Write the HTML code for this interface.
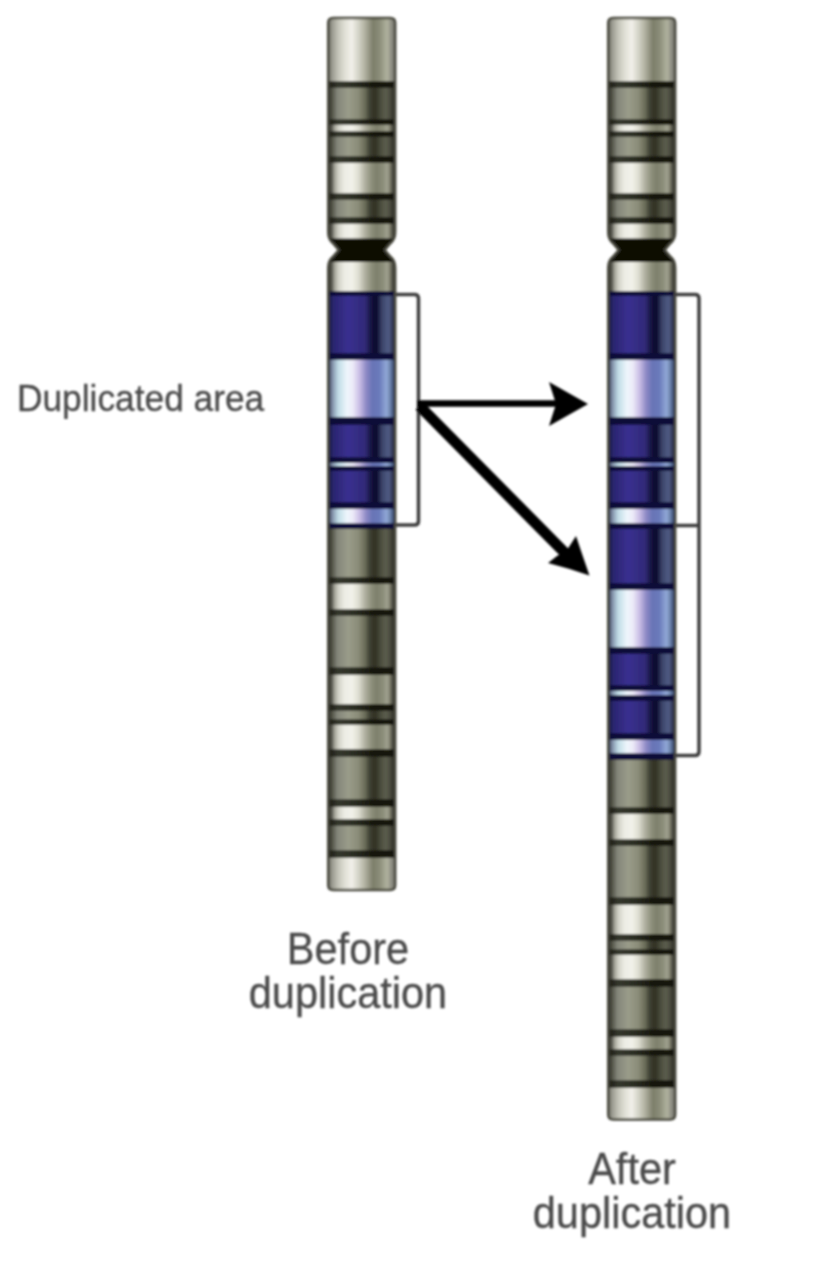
<!DOCTYPE html>
<html><head><meta charset="utf-8"><style>
html,body{margin:0;padding:0;background:#fff}
body{width:825px;height:1262px;position:relative;overflow:hidden}
.t{position:absolute;font-family:"Liberation Sans",sans-serif;color:#4a4a4a;white-space:nowrap}
.c{text-align:center}
.t{filter:blur(0.8px);-webkit-text-stroke:0.3px #4a4a4a;transform:scaleY(1.05);transform-origin:50% 0}
</style></head><body>
<svg width="825" height="1262" viewBox="0 0 825 1262" style="position:absolute;left:0;top:0">
<defs>
<linearGradient id="gL" x1="0" x2="1" y1="0" y2="0">
<stop offset="0" stop-color="#303028"/><stop offset="0.05" stop-color="#505048"/><stop offset="0.1" stop-color="#a8a89c"/><stop offset="0.16" stop-color="#d4d4ca"/>
<stop offset="0.24" stop-color="#ececE4"/><stop offset="0.35" stop-color="#f2f2ea"/><stop offset="0.45" stop-color="#deded2"/>
<stop offset="0.55" stop-color="#b0b0a0"/><stop offset="0.65" stop-color="#8c8e7a"/><stop offset="0.72" stop-color="#7e806c"/>
<stop offset="0.82" stop-color="#8c8e7a"/><stop offset="0.88" stop-color="#a0a290"/><stop offset="0.92" stop-color="#80806e"/>
<stop offset="0.96" stop-color="#4a4a40"/><stop offset="1" stop-color="#303028"/></linearGradient>
<linearGradient id="gD" x1="0" x2="1" y1="0" y2="0">
<stop offset="0" stop-color="#282820"/><stop offset="0.07" stop-color="#5a5c50"/><stop offset="0.14" stop-color="#84867a"/>
<stop offset="0.3" stop-color="#9a9c8a"/><stop offset="0.45" stop-color="#8a8c78"/><stop offset="0.55" stop-color="#6a6c58"/>
<stop offset="0.62" stop-color="#3e4032"/><stop offset="0.7" stop-color="#303222"/><stop offset="0.78" stop-color="#4a4c3c"/>
<stop offset="0.86" stop-color="#5c5e4e"/><stop offset="0.93" stop-color="#48483c"/><stop offset="1" stop-color="#202018"/></linearGradient>
<linearGradient id="gB" x1="0" x2="1" y1="0" y2="0">
<stop offset="0" stop-color="#14143a"/><stop offset="0.08" stop-color="#2a2670"/><stop offset="0.3" stop-color="#3a3090"/>
<stop offset="0.55" stop-color="#302a78"/><stop offset="0.65" stop-color="#14123c"/><stop offset="0.72" stop-color="#0c0c2c"/>
<stop offset="0.8" stop-color="#3a4468"/><stop offset="0.9" stop-color="#505c84"/><stop offset="0.95" stop-color="#3a4060"/>
<stop offset="1" stop-color="#101030"/></linearGradient>
<linearGradient id="gLB" x1="0" x2="1" y1="0" y2="0">
<stop offset="0" stop-color="#303850"/><stop offset="0.07" stop-color="#8898b0"/><stop offset="0.15" stop-color="#c0dce6"/>
<stop offset="0.28" stop-color="#eef6fc"/><stop offset="0.37" stop-color="#eceaf8"/><stop offset="0.47" stop-color="#c8bce4"/>
<stop offset="0.57" stop-color="#8c88c4"/><stop offset="0.66" stop-color="#6874b6"/><stop offset="0.76" stop-color="#6a7aba"/>
<stop offset="0.87" stop-color="#90a8d6"/><stop offset="0.93" stop-color="#6a80a8"/><stop offset="1" stop-color="#1c2850"/></linearGradient>
<linearGradient id="gK" x1="0" x2="1" y1="0" y2="0">
<stop offset="0" stop-color="#1a1a14"/><stop offset="0.15" stop-color="#34362c"/><stop offset="0.4" stop-color="#2a2c22"/><stop offset="0.7" stop-color="#14140a"/><stop offset="1" stop-color="#18180f"/></linearGradient>
<linearGradient id="gL0" x1="0" x2="1" y1="0" y2="0">
<stop offset="0" stop-color="#6a6a60"/><stop offset="0.06" stop-color="#9a9a90"/><stop offset="0.15" stop-color="#c4c4b8"/>
<stop offset="0.25" stop-color="#e0e0d6"/><stop offset="0.35" stop-color="#f2f0ea"/><stop offset="0.45" stop-color="#d4d4c8"/>
<stop offset="0.55" stop-color="#b0b0a0"/><stop offset="0.67" stop-color="#7c7e6a"/><stop offset="0.76" stop-color="#8a8c78"/>
<stop offset="0.88" stop-color="#b0b29e"/><stop offset="0.95" stop-color="#8a8a80"/><stop offset="1" stop-color="#6a6a60"/></linearGradient>
<filter id="bl" x="-5%" y="-5%" width="110%" height="110%"><feGaussianBlur stdDeviation="1.3"/></filter>

</defs>
<g filter="url(#bl)">
<clipPath id="c328"><path d="M328.2,23 Q328.2,18 333.2,18 L390.2,18 Q395.2,18 395.2,23 L395.2,232 Q395.2,239.5 390.2,243.5 L384.7,250 L390.2,256.5 Q395.2,260.5 395.2,268 L395.2,885 Q395.2,890 390.2,890 L333.2,890 Q328.2,890 328.2,885 L328.2,268 Q328.2,260.5 333.2,256.5 L338.7,250 L333.2,243.5 Q328.2,239.5 328.2,232 Z"/></clipPath>
<g clip-path="url(#c328)">
<rect x="328.2" y="0" width="67" height="1200" fill="#0c0c08"/>
<rect x="328.2" y="17" width="67" height="65" fill="url(#gL0)"/>
<rect x="328.2" y="87" width="67" height="33" fill="url(#gD)"/>
<rect x="328.2" y="124" width="67" height="8" fill="url(#gL)"/>
<rect x="328.2" y="136" width="67" height="21" fill="url(#gD)"/>
<rect x="328.2" y="162" width="67" height="32" fill="url(#gL)"/>
<rect x="328.2" y="199" width="67" height="19" fill="url(#gD)"/>
<rect x="328.2" y="223" width="67" height="16" fill="url(#gL)"/>
<rect x="328.2" y="262" width="67" height="30" fill="url(#gL)"/>
<rect x="328.2" y="295" width="67" height="59" fill="url(#gB)"/>
<rect x="328.2" y="359" width="67" height="59" fill="url(#gLB)"/>
<rect x="328.2" y="424" width="67" height="34" fill="url(#gB)"/>
<rect x="328.2" y="462" width="67" height="5" fill="url(#gLB)"/>
<rect x="328.2" y="470" width="67" height="33" fill="url(#gB)"/>
<rect x="328.2" y="508" width="67" height="16" fill="url(#gLB)"/>
<rect x="328.2" y="528" width="67" height="50" fill="url(#gD)"/>
<rect x="328.2" y="583" width="67" height="27" fill="url(#gL)"/>
<rect x="328.2" y="615" width="67" height="53" fill="url(#gD)"/>
<rect x="328.2" y="674" width="67" height="31" fill="url(#gL)"/>
<rect x="328.2" y="710" width="67" height="10" fill="url(#gD)"/>
<rect x="328.2" y="724" width="67" height="26" fill="url(#gL)"/>
<rect x="328.2" y="756" width="67" height="44" fill="url(#gD)"/>
<rect x="328.2" y="806" width="67" height="14" fill="url(#gL)"/>
<rect x="328.2" y="825" width="67" height="26" fill="url(#gD)"/>
<rect x="328.2" y="857" width="67" height="33" fill="url(#gL0)"/>
<rect x="328.2" y="81.25" width="67" height="6.5" fill="url(#gK)"/>
<rect x="328.2" y="119.25" width="67" height="5.5" fill="url(#gK)"/>
<rect x="328.2" y="131.25" width="67" height="5.5" fill="url(#gK)"/>
<rect x="328.2" y="156.25" width="67" height="6.5" fill="url(#gK)"/>
<rect x="328.2" y="193.25" width="67" height="6.5" fill="url(#gK)"/>
<rect x="328.2" y="217.25" width="67" height="6.5" fill="url(#gK)"/>
<rect x="328.2" y="291.25" width="67" height="4.5" fill="#0a0a38"/>
<rect x="328.2" y="353.25" width="67" height="6.5" fill="#0a0a38"/>
<rect x="328.2" y="417.25" width="67" height="7.5" fill="#0a0a38"/>
<rect x="328.2" y="457.25" width="67" height="5.5" fill="#0a0a38"/>
<rect x="328.2" y="466.25" width="67" height="4.5" fill="#0a0a38"/>
<rect x="328.2" y="502.25" width="67" height="6.5" fill="#0a0a38"/>
<rect x="328.2" y="523.25" width="67" height="5.5" fill="#0a0a38"/>
<rect x="328.2" y="577.25" width="67" height="6.5" fill="url(#gK)"/>
<rect x="328.2" y="609.25" width="67" height="6.5" fill="url(#gK)"/>
<rect x="328.2" y="667.25" width="67" height="7.5" fill="url(#gK)"/>
<rect x="328.2" y="704.25" width="67" height="6.5" fill="url(#gK)"/>
<rect x="328.2" y="719.25" width="67" height="5.5" fill="url(#gK)"/>
<rect x="328.2" y="749.25" width="67" height="7.5" fill="url(#gK)"/>
<rect x="328.2" y="799.25" width="67" height="7.5" fill="url(#gK)"/>
<rect x="328.2" y="819.25" width="67" height="6.5" fill="url(#gK)"/>
<rect x="328.2" y="850.25" width="67" height="7.5" fill="url(#gK)"/>
<rect x="328.2" y="238.5" width="67" height="23.5" fill="#080806"/>
</g>
<path d="M328.2,23 Q328.2,18 333.2,18 L390.2,18 Q395.2,18 395.2,23 L395.2,232 Q395.2,239.5 390.2,243.5 L384.7,250 L390.2,256.5 Q395.2,260.5 395.2,268 L395.2,885 Q395.2,890 390.2,890 L333.2,890 Q328.2,890 328.2,885 L328.2,268 Q328.2,260.5 333.2,256.5 L338.7,250 L333.2,243.5 Q328.2,239.5 328.2,232 Z" fill="none" stroke="#48483e" stroke-width="2.5"/>
<clipPath id="c608"><path d="M608.2,23 Q608.2,18 613.2,18 L670.2,18 Q675.2,18 675.2,23 L675.2,232 Q675.2,239.5 670.2,243.5 L664.7,250 L670.2,256.5 Q675.2,260.5 675.2,268 L675.2,1114.5 Q675.2,1119.5 670.2,1119.5 L613.2,1119.5 Q608.2,1119.5 608.2,1114.5 L608.2,268 Q608.2,260.5 613.2,256.5 L618.7,250 L613.2,243.5 Q608.2,239.5 608.2,232 Z"/></clipPath>
<g clip-path="url(#c608)">
<rect x="608.2" y="0" width="67" height="1200" fill="#0c0c08"/>
<rect x="608.2" y="17" width="67" height="65" fill="url(#gL0)"/>
<rect x="608.2" y="87" width="67" height="33" fill="url(#gD)"/>
<rect x="608.2" y="124" width="67" height="8" fill="url(#gL)"/>
<rect x="608.2" y="136" width="67" height="21" fill="url(#gD)"/>
<rect x="608.2" y="162" width="67" height="32" fill="url(#gL)"/>
<rect x="608.2" y="199" width="67" height="19" fill="url(#gD)"/>
<rect x="608.2" y="223" width="67" height="16" fill="url(#gL)"/>
<rect x="608.2" y="262" width="67" height="30" fill="url(#gL)"/>
<rect x="608.2" y="295" width="67" height="59" fill="url(#gB)"/>
<rect x="608.2" y="359" width="67" height="59" fill="url(#gLB)"/>
<rect x="608.2" y="424" width="67" height="34" fill="url(#gB)"/>
<rect x="608.2" y="462" width="67" height="5" fill="url(#gLB)"/>
<rect x="608.2" y="470" width="67" height="33" fill="url(#gB)"/>
<rect x="608.2" y="508" width="67" height="16" fill="url(#gLB)"/>
<rect x="608.2" y="528" width="67" height="56" fill="url(#gB)"/>
<rect x="608.2" y="589" width="67" height="59" fill="url(#gLB)"/>
<rect x="608.2" y="653" width="67" height="33" fill="url(#gB)"/>
<rect x="608.2" y="690" width="67" height="6" fill="url(#gLB)"/>
<rect x="608.2" y="700" width="67" height="34" fill="url(#gB)"/>
<rect x="608.2" y="739" width="67" height="15" fill="url(#gLB)"/>
<rect x="608.2" y="758" width="67" height="50" fill="url(#gD)"/>
<rect x="608.2" y="813" width="67" height="27" fill="url(#gL)"/>
<rect x="608.2" y="845" width="67" height="53" fill="url(#gD)"/>
<rect x="608.2" y="904" width="67" height="31" fill="url(#gL)"/>
<rect x="608.2" y="940" width="67" height="10" fill="url(#gD)"/>
<rect x="608.2" y="954" width="67" height="26" fill="url(#gL)"/>
<rect x="608.2" y="986" width="67" height="44" fill="url(#gD)"/>
<rect x="608.2" y="1036" width="67" height="14" fill="url(#gL)"/>
<rect x="608.2" y="1055" width="67" height="26" fill="url(#gD)"/>
<rect x="608.2" y="1087" width="67" height="32.5" fill="url(#gL0)"/>
<rect x="608.2" y="81.25" width="67" height="6.5" fill="url(#gK)"/>
<rect x="608.2" y="119.25" width="67" height="5.5" fill="url(#gK)"/>
<rect x="608.2" y="131.25" width="67" height="5.5" fill="url(#gK)"/>
<rect x="608.2" y="156.25" width="67" height="6.5" fill="url(#gK)"/>
<rect x="608.2" y="193.25" width="67" height="6.5" fill="url(#gK)"/>
<rect x="608.2" y="217.25" width="67" height="6.5" fill="url(#gK)"/>
<rect x="608.2" y="291.25" width="67" height="4.5" fill="#0a0a38"/>
<rect x="608.2" y="353.25" width="67" height="6.5" fill="#0a0a38"/>
<rect x="608.2" y="417.25" width="67" height="7.5" fill="#0a0a38"/>
<rect x="608.2" y="457.25" width="67" height="5.5" fill="#0a0a38"/>
<rect x="608.2" y="466.25" width="67" height="4.5" fill="#0a0a38"/>
<rect x="608.2" y="502.25" width="67" height="6.5" fill="#0a0a38"/>
<rect x="608.2" y="523.25" width="67" height="5.5" fill="#0a0a38"/>
<rect x="608.2" y="583.25" width="67" height="6.5" fill="#0a0a38"/>
<rect x="608.2" y="647.25" width="67" height="6.5" fill="#0a0a38"/>
<rect x="608.2" y="685.25" width="67" height="5.5" fill="#0a0a38"/>
<rect x="608.2" y="695.25" width="67" height="5.5" fill="#0a0a38"/>
<rect x="608.2" y="733.25" width="67" height="6.5" fill="#0a0a38"/>
<rect x="608.2" y="753.25" width="67" height="6.5" fill="#0a0a38"/>
<rect x="608.2" y="807.25" width="67" height="6.5" fill="url(#gK)"/>
<rect x="608.2" y="839.25" width="67" height="6.5" fill="url(#gK)"/>
<rect x="608.2" y="897.25" width="67" height="7.5" fill="url(#gK)"/>
<rect x="608.2" y="934.25" width="67" height="6.5" fill="url(#gK)"/>
<rect x="608.2" y="949.25" width="67" height="5.5" fill="url(#gK)"/>
<rect x="608.2" y="979.25" width="67" height="7.5" fill="url(#gK)"/>
<rect x="608.2" y="1029.25" width="67" height="7.5" fill="url(#gK)"/>
<rect x="608.2" y="1049.25" width="67" height="6.5" fill="url(#gK)"/>
<rect x="608.2" y="1080.25" width="67" height="7.5" fill="url(#gK)"/>
<rect x="608.2" y="238.5" width="67" height="23.5" fill="#080806"/>
</g>
<path d="M608.2,23 Q608.2,18 613.2,18 L670.2,18 Q675.2,18 675.2,23 L675.2,232 Q675.2,239.5 670.2,243.5 L664.7,250 L670.2,256.5 Q675.2,260.5 675.2,268 L675.2,1114.5 Q675.2,1119.5 670.2,1119.5 L613.2,1119.5 Q608.2,1119.5 608.2,1114.5 L608.2,268 Q608.2,260.5 613.2,256.5 L618.7,250 L613.2,243.5 Q608.2,239.5 608.2,232 Z" fill="none" stroke="#48483e" stroke-width="2.5"/>
<path d="M396,294.5 L414.5,294.5 Q418.5,294.5 418.5,298.5 L418.5,521 Q418.5,525 414.5,525 L396,525" fill="none" stroke="#3c3c3c" stroke-width="3.5"/>
<path d="M675,294.5 L695,294.5 Q699,294.5 699,298.5 L699,751.5 Q699,755.5 695,755.5 L675,755.5 M676,525.5 L699,525.5" fill="none" stroke="#3c3c3c" stroke-width="3.5"/>
<path d="M417,403.5 L557,403.5" stroke="#000" stroke-width="6.5"/>
<path d="M588,404 L549,382 L556,404 L549,426 Z" fill="#000"/>
<path d="M419.5,406 L566,554" stroke="#000" stroke-width="11"/>
<path d="M589.5,575.5 Q582,554 576,536 L567,550 L557,556 L548,563 Q568,568 589.5,575.5 Z" fill="#000"/>
</g>
</svg>

<div class="t" style="left:17px;top:376.5px;font-size:35.3px;line-height:40px">Duplicated area</div>
<div class="t c" style="left:248px;top:927px;width:200px;font-size:41.5px;line-height:42px">Before<br>duplication</div>
<div class="t c" style="left:532px;top:1146.5px;width:200px;font-size:41.5px;line-height:42px">After<br>duplication</div>

</body></html>
